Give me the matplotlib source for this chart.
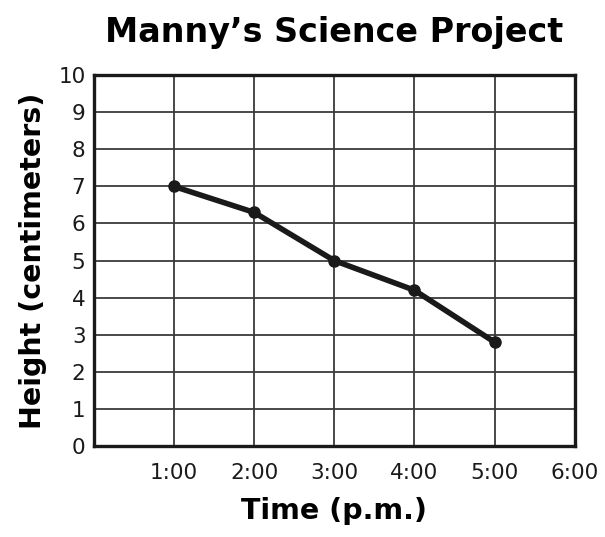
import matplotlib.pyplot as plt

# hours after noon and measured plant height
hours = [1, 2, 3, 4, 5]
height_cm = [7.0, 6.3, 5.0, 4.2, 2.8]
tick_hours = [1, 2, 3, 4, 5, 6]
tick_labels = ['1:00', '2:00', '3:00', '4:00', '5:00', '6:00']

plt.rcParams['font.family'] = 'DejaVu Sans'

fig = plt.figure(figsize=(6.05, 5.37), dpi=100)
ax = fig.add_axes([0.155, 0.1695, 0.795, 0.6905])

ax.plot(hours, height_cm, color='#1a1a1a', lw=4, marker='o', ms=8,
        solid_capstyle='round', zorder=3)

ax.set_xlim(0, 6)
ax.set_ylim(0, 10)
ax.set_xticks(tick_hours)
ax.set_xticklabels(tick_labels)
ax.set_yticks(range(0, 11))
ax.tick_params(length=0, labelsize=15.5, colors='#1a1a1a', pad=6)
ax.tick_params(axis='x', pad=12)
ax.grid(True, color='#3a3a3a', lw=1.3)
for s in ax.spines.values():
    s.set_linewidth(2.4)
    s.set_color('#1a1a1a')

ax.set_title("Manny’s Science Project", fontsize=24, fontweight='bold', pad=24)
ax.set_xlabel('Time (p.m.)', fontsize=20.5, fontweight='bold', labelpad=10)
ax.set_ylabel('Height (centimeters)', fontsize=20.5, fontweight='bold', labelpad=8)

fig.savefig('out.png')
